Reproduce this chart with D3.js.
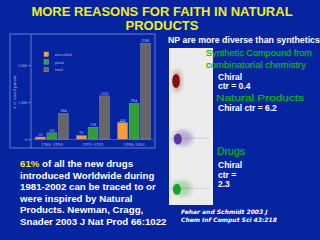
<!DOCTYPE html>
<html>
<head>
<meta charset="utf-8">
<script src="https://cdn.jsdelivr.net/npm/d3@7"></script>
<style>
  body { margin: 0; background: #0624a0; }
  svg { display: block; }
</style>
</head>
<body>
<div id="vis"></div>
<script>
// chart data
const PERIODS = ["1986-1990", "1991-1995", "1996-2001"];
const SERIES = ["microbial", "plant", "total"];
const MICROBIAL = [53, 91, 440];
const PLANT = [165, 318, 964];
const TOTAL = [684, 1163, 2586];
const Y_TICKS = [0, 1000, 2000];

// scatter clusters (centre x, centre y in panel units 0..1)
const CLUSTERS = ["synthetic", "natural", "drugs"];
const CLUSTER_X = [0.16, 0.2, 0.18];
const CLUSTER_Y = [0.21, 0.58, 0.9];
const CLUSTER_COLORS = ["#8a0c0c", "#4a2094", "#12a428"];

const COLORS = {microbial: "#f59c3c", plant: "#2f9e36", total: "#666666"};

const FRAME = d3.select("#vis")
  .append("svg")
  .attr("width", 320)
  .attr("height", 240);

FRAME.append("rect")
  .attr("width", 320).attr("height", 240)
  .attr("fill", "#0624a0");

// title
FRAME.selectAll(".title")
  .data(["MORE REASONS FOR FAITH IN NATURAL", "PRODUCTS"])
  .enter()
  .append("text")
    .attr("x", 162)
    .attr("y", (d, i) => 16 + i * 14)
    .attr("text-anchor", "middle")
    .attr("font-family", "Liberation Sans, Arial, sans-serif")
    .attr("font-weight", "bold")
    .attr("font-size", 13)
    .attr("fill", "#eeee22")
    .text((d) => d);

// ---- bar chart ----
const chart = FRAME.append("g");

chart.append("rect")
  .attr("x", 10).attr("y", 34)
  .attr("width", 145).attr("height", 114)
  .attr("fill", "none")
  .attr("stroke", "#8090d8")
  .attr("stroke-width", 0.8);

chart.append("line")
  .attr("x1", 31).attr("x2", 31)
  .attr("y1", 34).attr("y2", 148)
  .attr("stroke", "#8090d8")
  .attr("stroke-width", 0.8);

const Y_SCALE = d3.scaleLinear()
  .domain([0, 2000])
  .range([139, 65]);

const X_SCALE = d3.scaleBand()
  .domain(PERIODS)
  .range([33, 153])
  .paddingInner(0.2)
  .paddingOuter(0.06);

const X_INNER = d3.scaleBand()
  .domain(SERIES)
  .range([0, X_SCALE.bandwidth()])
  .paddingInner(0.14);

const yAxis = chart.append("g")
  .attr("transform", "translate(31,0)")
  .call(d3.axisLeft(Y_SCALE).tickValues(Y_TICKS).tickSize(3).tickPadding(1));
yAxis.select(".domain").remove();
yAxis.selectAll("line").attr("stroke", "#aab4e8").attr("stroke-width", 0.6);
yAxis.selectAll("text")
  .attr("fill", "#aab4e8")
  .attr("font-size", 4)
  .attr("font-family", "Liberation Serif, serif");

const xAxis = chart.append("g")
  .attr("transform", "translate(0,139)")
  .call(d3.axisBottom(X_SCALE).tickSize(0).tickPadding(3));
xAxis.select(".domain").attr("stroke", "#aab4e8").attr("stroke-width", 0.4);
xAxis.selectAll("text")
  .attr("fill", "#aab4e8")
  .attr("font-size", 5)
  .attr("font-family", "Liberation Serif, serif");

chart.append("text")
  .attr("transform", "translate(16,92) rotate(-90)")
  .attr("text-anchor", "middle")
  .attr("font-size", 4.5)
  .attr("font-family", "Liberation Serif, serif")
  .attr("fill", "#aab4e8")
  .text("# of issued patents");

const barData = [];
PERIODS.forEach((p, i) => {
  barData.push({period: p, series: "microbial", value: MICROBIAL[i]});
  barData.push({period: p, series: "plant", value: PLANT[i]});
  barData.push({period: p, series: "total", value: TOTAL[i]});
});

chart.selectAll(".bar")
  .data(barData)
  .enter()
  .append("rect")
    .attr("class", "bar")
    .attr("x", (d) => X_SCALE(d.period) + X_INNER(d.series))
    .attr("y", (d) => Y_SCALE(d.value))
    .attr("width", X_INNER.bandwidth())
    .attr("height", (d) => Y_SCALE(0) - Y_SCALE(d.value))
    .attr("fill", (d) => COLORS[d.series])
    .attr("stroke", "#9aa0b0")
    .attr("stroke-width", 0.4);

chart.selectAll(".barlabel")
  .data(barData)
  .enter()
  .append("text")
    .attr("x", (d) => X_SCALE(d.period) + X_INNER(d.series) + X_INNER.bandwidth() / 2)
    .attr("y", (d) => Y_SCALE(d.value) - 1.2)
    .attr("text-anchor", "middle")
    .attr("font-size", 4)
    .attr("font-family", "Liberation Serif, serif")
    .attr("fill", "#c8cde8")
    .text((d) => d.value);

// legend
const legend = chart.selectAll(".legend")
  .data(SERIES)
  .enter()
  .append("g")
    .attr("transform", (d, i) => "translate(44," + (52 + i * 7.7) + ")");
legend.append("rect")
  .attr("width", 4.5).attr("height", 4.5)
  .attr("fill", (d) => COLORS[d])
  .attr("stroke", "#ccc").attr("stroke-width", 0.3);
legend.append("text")
  .attr("x", 11).attr("y", 3.8)
  .attr("font-size", 4.5)
  .attr("font-family", "Liberation Serif, serif")
  .attr("fill", "#aab4e8")
  .text((d) => d);

// ---- left text block ----
const LEFT_LINES = [
  "of all the new drugs",
  "introduced Worldwide during",
  "1981-2002 can be traced to or",
  "were inspired by Natural",
  "Products. Newman, Cragg,",
  "Snader 2003 J Nat Prod 66:1022"
];
const leftText = FRAME.append("text")
  .attr("font-family", "Liberation Sans, Arial, sans-serif")
  .attr("font-weight", "bold")
  .attr("font-size", 9.7)
  .attr("fill", "#ffffff");
LEFT_LINES.forEach((line, i) => {
  const t = leftText.append("tspan")
    .attr("x", 20)
    .attr("y", 167 + i * 11.6);
  if (i === 0) {
    t.append("tspan").attr("fill", "#eeee22").text("61% ");
    t.append("tspan").text(line);
  } else {
    t.text(line);
  }
});

// ---- right side ----
FRAME.append("text")
  .attr("x", 168).attr("y", 43)
  .attr("font-family", "Liberation Sans, Arial, sans-serif")
  .attr("font-weight", "bold")
  .attr("font-size", 8.8)
  .attr("fill", "#ffffff")
  .text("NP are more diverse than synthetics");

// scatter panel
const PANEL = {x: 169, y: 48, w: 44, h: 157};
const panel = FRAME.append("g");
panel.append("rect")
  .attr("x", PANEL.x).attr("y", PANEL.y)
  .attr("width", PANEL.w).attr("height", PANEL.h)
  .attr("fill", "#ececec");

const defs = FRAME.append("defs");
defs.append("filter").attr("id", "blur")
  .append("feGaussianBlur").attr("stdDeviation", 2);
defs.append("filter").attr("id", "blur2")
  .append("feGaussianBlur").attr("stdDeviation", 0.5);

const PX = d3.scaleLinear().domain([0, 1]).range([PANEL.x, PANEL.x + PANEL.w]);
const PY = d3.scaleLinear().domain([0, 1]).range([PANEL.y, PANEL.y + PANEL.h]);

// faint lines through clusters
panel.selectAll(".hl")
  .data(CLUSTERS)
  .enter()
  .append("line")
    .attr("x1", PANEL.x + 2).attr("x2", PANEL.x + PANEL.w - 3)
    .attr("y1", (d, i) => PY(CLUSTER_Y[i]) - 1)
    .attr("y2", (d, i) => PY(CLUSTER_Y[i]) - 1)
    .attr("stroke", (d, i) => i === 0 ? "none" : "#c8b8b8")
    .attr("stroke-width", 0.6);

panel.selectAll(".halo")
  .data(CLUSTERS)
  .enter()
  .append("ellipse")
    .attr("cx", (d, i) => PX(CLUSTER_X[i]) + (i === 0 ? 1 : 5))
    .attr("cy", (d, i) => PY(CLUSTER_Y[i]) - (i === 0 ? 0 : 1))
    .attr("rx", (d, i) => i === 0 ? 5 : 10)
    .attr("ry", (d, i) => i === 0 ? 11 : 8)
    .attr("fill", (d, i) => CLUSTER_COLORS[i])
    .attr("opacity", 0.3)
    .attr("filter", "url(#blur)");

panel.selectAll(".core")
  .data(CLUSTERS)
  .enter()
  .append("ellipse")
    .attr("cx", (d, i) => PX(CLUSTER_X[i]))
    .attr("cy", (d, i) => PY(CLUSTER_Y[i]))
    .attr("rx", (d, i) => i === 0 ? 3.8 : 4)
    .attr("ry", (d, i) => i === 0 ? 7 : 5.5)
    .attr("fill", (d, i) => CLUSTER_COLORS[i])
    .attr("opacity", (d, i) => i === 1 ? 0.85 : 1)
    .attr("filter", "url(#blur2)");

// right labels
const GREEN = "#14b014";
const rightLabels = [
  {text: "Synthetic Compound from", x: 206, y: 56, size: 9.5, len: 106, color: GREEN, weight: "normal"},
  {text: "combinatorial chemistry", x: 206, y: 68, size: 9.5, len: 100, color: GREEN, weight: "normal"},
  {text: "Chiral", x: 218, y: 79.5, size: 8.5, len: 0, color: "#ffffff", weight: "bold"},
  {text: "ctr = 0.4", x: 218, y: 89, size: 8.5, len: 0, color: "#ffffff", weight: "bold"},
  {text: "Natural Products", x: 216, y: 100.5, size: 9.8, len: 88, color: GREEN, weight: "normal"},
  {text: "Chiral ctr = 6.2", x: 218, y: 111, size: 8.5, len: 0, color: "#ffffff", weight: "bold"},
  {text: "Drugs", x: 217, y: 155, size: 10.5, len: 28, color: GREEN, weight: "normal"},
  {text: "Chiral", x: 218, y: 167.5, size: 8.5, len: 0, color: "#ffffff", weight: "bold"},
  {text: "ctr =", x: 218, y: 177.5, size: 8.5, len: 0, color: "#ffffff", weight: "bold"},
  {text: "2.3", x: 218, y: 187, size: 8.5, len: 0, color: "#ffffff", weight: "bold"}
];
const rl = FRAME.selectAll(".rl")
  .data(rightLabels)
  .enter()
  .append("text")
    .attr("x", (d) => d.x)
    .attr("y", (d) => d.y)
    .attr("font-family", "Liberation Sans, Arial, sans-serif")
    .attr("font-weight", (d) => d.weight)
    .attr("font-size", (d) => d.size)
    .attr("fill", (d) => d.color)
    .text((d) => d.text);
rl.filter((d) => d.len > 0)
  .attr("textLength", (d) => d.len)
  .attr("lengthAdjust", "spacingAndGlyphs")
  .attr("stroke", GREEN)
  .attr("stroke-width", 0.25);

FRAME.selectAll(".cite")
  .data(["Fehar and Schmidt 2003 J", "Chem Inf Comput Sci 43:218"])
  .enter()
  .append("text")
    .attr("x", 181)
    .attr("y", (d, i) => 213.5 + i * 8)
    .attr("font-family", "DejaVu Sans, sans-serif")
    .attr("font-weight", "bold")
    .attr("font-style", "italic")
    .attr("font-size", 6)
    .attr("fill", "#ffffff")
    .text((d) => d);
</script>
</body>
</html>
